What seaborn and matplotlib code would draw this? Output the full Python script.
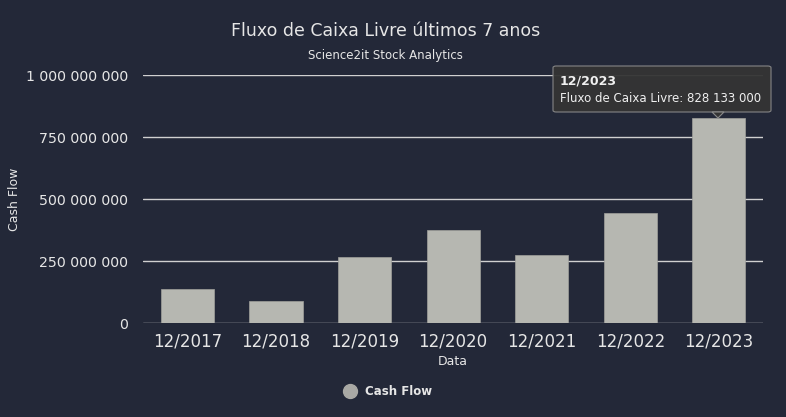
import matplotlib
matplotlib.use("Agg")
import matplotlib.pyplot as plt
import seaborn as sns
import pandas as pd
from matplotlib.patches import FancyBboxPatch, Polygon
from matplotlib.lines import Line2D
from matplotlib.ticker import FuncFormatter

datas = ["12/2017", "12/2018", "12/2019", "12/2020", "12/2021", "12/2022", "12/2023"]
cash_flow = [137000000, 89000000, 266000000, 375000000, 274000000, 443000000, 828133000]
y_ticks = [0, 250000000, 500000000, 750000000, 1000000000]

bg = "#232838"
bar_color = "#b6b7b1"
txt = "#e6e6e6"

sns.set_theme(style="dark")
plt.rcParams["font.family"] = ["DejaVu Sans"]

df = pd.DataFrame({"Data": datas, "Cash Flow": cash_flow})

fig = plt.figure(figsize=(7.86, 4.17), dpi=100, facecolor=bg)
ax = fig.add_axes([0.182, 0.2254, 0.789, 0.5946])
ax.set_facecolor(bg)

sns.barplot(data=df, x="Data", y="Cash Flow", color=bar_color, width=0.6,
            saturation=1, ax=ax, zorder=3, edgecolor="#a0a19c", linewidth=0.5)

ax.set_ylim(0, 1000000000)
ax.set_yticks(y_ticks)
ax.yaxis.set_major_formatter(FuncFormatter(lambda v, p: f"{int(v):,}".replace(",", " ")))
ax.set_xlim(-0.5, len(datas) - 0.5)
for v in y_ticks:
    ax.axhline(v, color="#d0d0d0", lw=1, zorder=1)
for s in ax.spines.values():
    s.set_visible(False)
ax.tick_params(axis="y", colors=txt, labelsize=10.2, length=0, pad=11)
ax.tick_params(axis="x", colors=txt, labelsize=12, length=0, pad=7)
ax.set_xlabel("Data", color=txt, fontsize=9, labelpad=3)
ax.set_ylabel("Cash Flow", color=txt, fontsize=9)
ax.yaxis.set_label_coords(-0.197, 0.5)

fig.text(0.49, 0.925, "Fluxo de Caixa Livre últimos 7 anos", color=txt,
         fontsize=12.5, ha="center", va="center")
fig.text(0.49, 0.866, "Science2it Stock Analytics", color=txt,
         fontsize=8.5, ha="center", va="center")

# tooltip on the last bar
tip = FancyBboxPatch((553 / 786, 1 - 112 / 417), 218 / 786, 46 / 417,
                     boxstyle="round,pad=0,rounding_size=0.004",
                     transform=fig.transFigure, facecolor="#343434",
                     edgecolor="#8a8a8a", lw=0.8, alpha=0.95, zorder=10)
fig.add_artist(tip)
tri = Polygon([(712 / 786, 1 - 112 / 417), (724 / 786, 1 - 112 / 417),
               (718 / 786, 1 - 118 / 417)], closed=True, transform=fig.transFigure,
              facecolor="#343434", edgecolor="#8a8a8a", lw=0.8, zorder=10)
fig.add_artist(tri)
fig.text(560 / 786, 1 - 81 / 417, "12/2023", color="#f0f0f0", fontsize=9,
         fontweight="bold", va="center", ha="left", zorder=11)
fig.text(560 / 786, 1 - 98 / 417, "Fluxo de Caixa Livre: 828 133 000", color="#f0f0f0",
         fontsize=8.5, va="center", ha="left", zorder=11)

handle = Line2D([], [], marker="o", ls="", markersize=10, color="#a9a9a5")
leg = fig.legend([handle], ["Cash Flow"], loc="center", bbox_to_anchor=(0.49, 0.06),
                 frameon=False, handletextpad=0.2,
                 prop={"size": 8.5, "weight": "bold"})
for t in leg.get_texts():
    t.set_color(txt)

fig.savefig("out.png", dpi=100, facecolor=bg)
